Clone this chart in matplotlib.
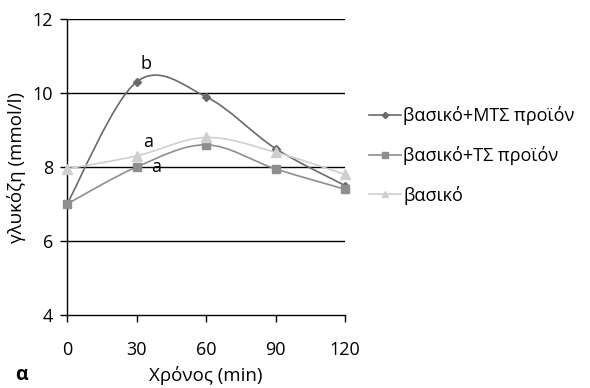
import matplotlib
matplotlib.use("Agg")
import matplotlib.pyplot as plt
from matplotlib.path import Path
from matplotlib.patches import PathPatch
from matplotlib.lines import Line2D
import numpy as np

plt.rcParams['font.family'] = ['Open Sans', 'DejaVu Sans']

times = [0, 30, 60, 90, 120]
mts = [7.0, 10.3, 9.9, 8.5, 7.5]
ts = [7.0, 8.0, 8.6, 7.95, 7.4]
basic = [7.95, 8.3, 8.8, 8.4, 7.8]
labels = ['βασικό+ΜΤΣ προϊόν', 'βασικό+ΤΣ προϊόν', 'βασικό']
colors = ['#6a6a6a', '#8e8e8e', '#cfcfcf']
markers = ['D', 's', '^']
msizes = [4.5, 6, 7]


def smooth_path(x, y):
    p = np.column_stack([x, y]).astype(float)
    n = len(p)
    verts = [p[0]]
    codes = [Path.MOVETO]
    for i in range(n - 1):
        p0 = p[i - 1] if i > 0 else p[i]
        p1 = p[i]
        p2 = p[i + 1]
        p3 = p[i + 2] if i + 2 < n else p[i + 1]
        c1 = p1 + (p2 - p0) / 6.0
        c2 = p2 - (p3 - p1) / 6.0
        verts += [c1, c2, p2]
        codes += [Path.CURVE4] * 3
    return Path(verts, codes)


fig = plt.figure(figsize=(5.9, 3.88), dpi=100)
ax = fig.add_axes([0.1136, 0.188, 0.4712, 0.763])

for yy in [6, 8, 10, 12]:
    ax.axhline(yy, color='black', lw=1.0, zorder=1)

handles = []
for vals, c, m, ms, lab in zip([mts, ts, basic], colors, markers, msizes, labels):
    patch = PathPatch(smooth_path(times, vals), facecolor='none', edgecolor=c, lw=1.2, zorder=3)
    ax.add_patch(patch)
    ax.plot(times, vals, linestyle='none', marker=m, color=c, markersize=ms, zorder=4, clip_on=False)
    handles.append(Line2D([], [], color=c, lw=1.2, marker=m, markersize=ms * 0.7, label=lab))

ax.set_xlim(0, 120)
ax.set_ylim(4, 12)
ax.set_xticks(times)
ax.set_yticks([4, 6, 8, 10, 12])
for s in ['top', 'right']:
    ax.spines[s].set_visible(False)
ax.spines['left'].set_linewidth(1.0)
ax.spines['bottom'].set_linewidth(1.0)
ax.tick_params(axis='both', direction='out', length=5, width=1.0, labelsize=13, pad=5)
ax.tick_params(axis='x', pad=14)

ax.text(34, 10.78, 'b', fontsize=13, ha='center', va='center')
ax.text(35, 8.68, 'a', fontsize=13, ha='center', va='center')
ax.text(38.5, 8.0, 'a', fontsize=13, ha='center', va='center')

ax.set_xlabel('Χρόνος (min)', fontsize=13.5, labelpad=5)
ax.set_ylabel('γλυκόζη (mmol/l)', fontsize=13.5, labelpad=5)
fig.text(0.025, 0.033, 'α', fontsize=14, fontweight='bold', ha='left', va='center')

fig.legend(handles=handles, loc='upper left', bbox_to_anchor=(0.598, 0.768), frameon=False,
           fontsize=13, handlelength=1.75, handletextpad=0.15, labelspacing=1.15)

fig.savefig('out.png', dpi=100)
